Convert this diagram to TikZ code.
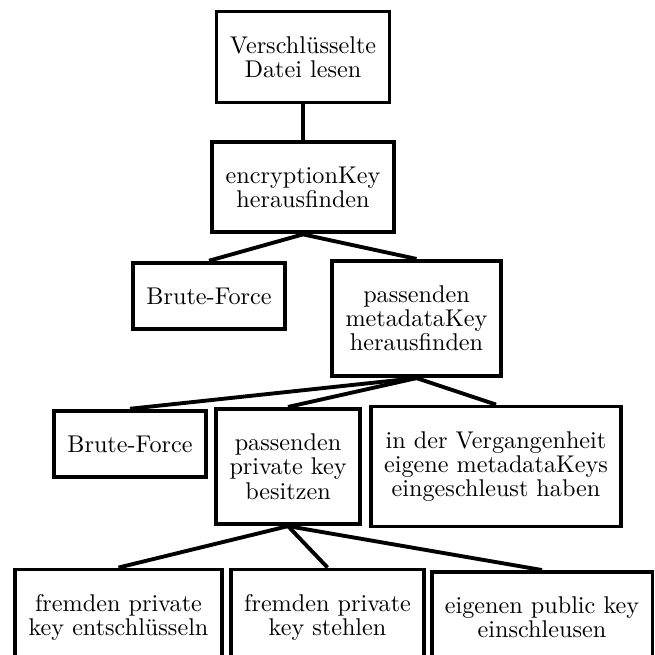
\documentclass[tikz,border=0pt]{standalone}
\usepackage{tikz}
\usetikzlibrary{positioning}
\tikzset{
  treebox/.style={draw, line width=1.6pt, align=center, inner xsep=5.5pt, inner ysep=10.3pt, font=\fontsize{10}{10}\selectfont},
  treeline/.style={line width=1.6pt}
}
\begin{document}
\begin{tikzpicture}
\useasboundingbox (0,0) rectangle (9.513,-9.499);
% goal
\node[treebox] (lesen) at (4.401,-0.828) {Verschlüsselte\\Datei lesen};
\node[treebox] (enckey) at (4.401,-2.716) {encryptionKey\\herausfinden};
% ways to the encryptionKey
\node[treebox] (brute1) at (3.036,-4.299) {Brute-Force};
\node[treebox] (metakey) at (6.049,-4.626) {passenden\\metadataKey\\herausfinden};
% ways to the metadataKey
\node[treebox] (brute2) at (1.888,-6.449) {Brute-Force};
\node[treebox] (privkey) at (4.183,-6.776) {passenden\\private key\\besitzen};
\node[treebox] (past) at (7.204,-6.776) {in der Vergangenheit\\eigene metadataKeys\\eingeschleust haben};
% ways to a private key
\node[treebox] (decrypt) at (1.721,-8.969) {fremden private\\key entschlüsseln};
\node[treebox] (steal) at (4.757,-8.969) {fremden private\\key stehlen};
\node[treebox] (inject) at (7.872,-8.969) {eigenen public key\\einschleusen};
% edges
\draw[treeline] (lesen.south) -- (enckey.north);
\draw[treeline] (enckey.south) -- (brute1.north);
\draw[treeline] (enckey.south) -- (metakey.north);
\draw[treeline] (metakey.south) -- (brute2.north);
\draw[treeline] (metakey.south) -- (privkey.north);
\draw[treeline] (metakey.south) -- (past.north);
\draw[treeline] (privkey.south) -- (decrypt.north);
\draw[treeline] (privkey.south) -- (steal.north);
\draw[treeline] (privkey.south) -- (inject.north);
\end{tikzpicture}
\end{document}
